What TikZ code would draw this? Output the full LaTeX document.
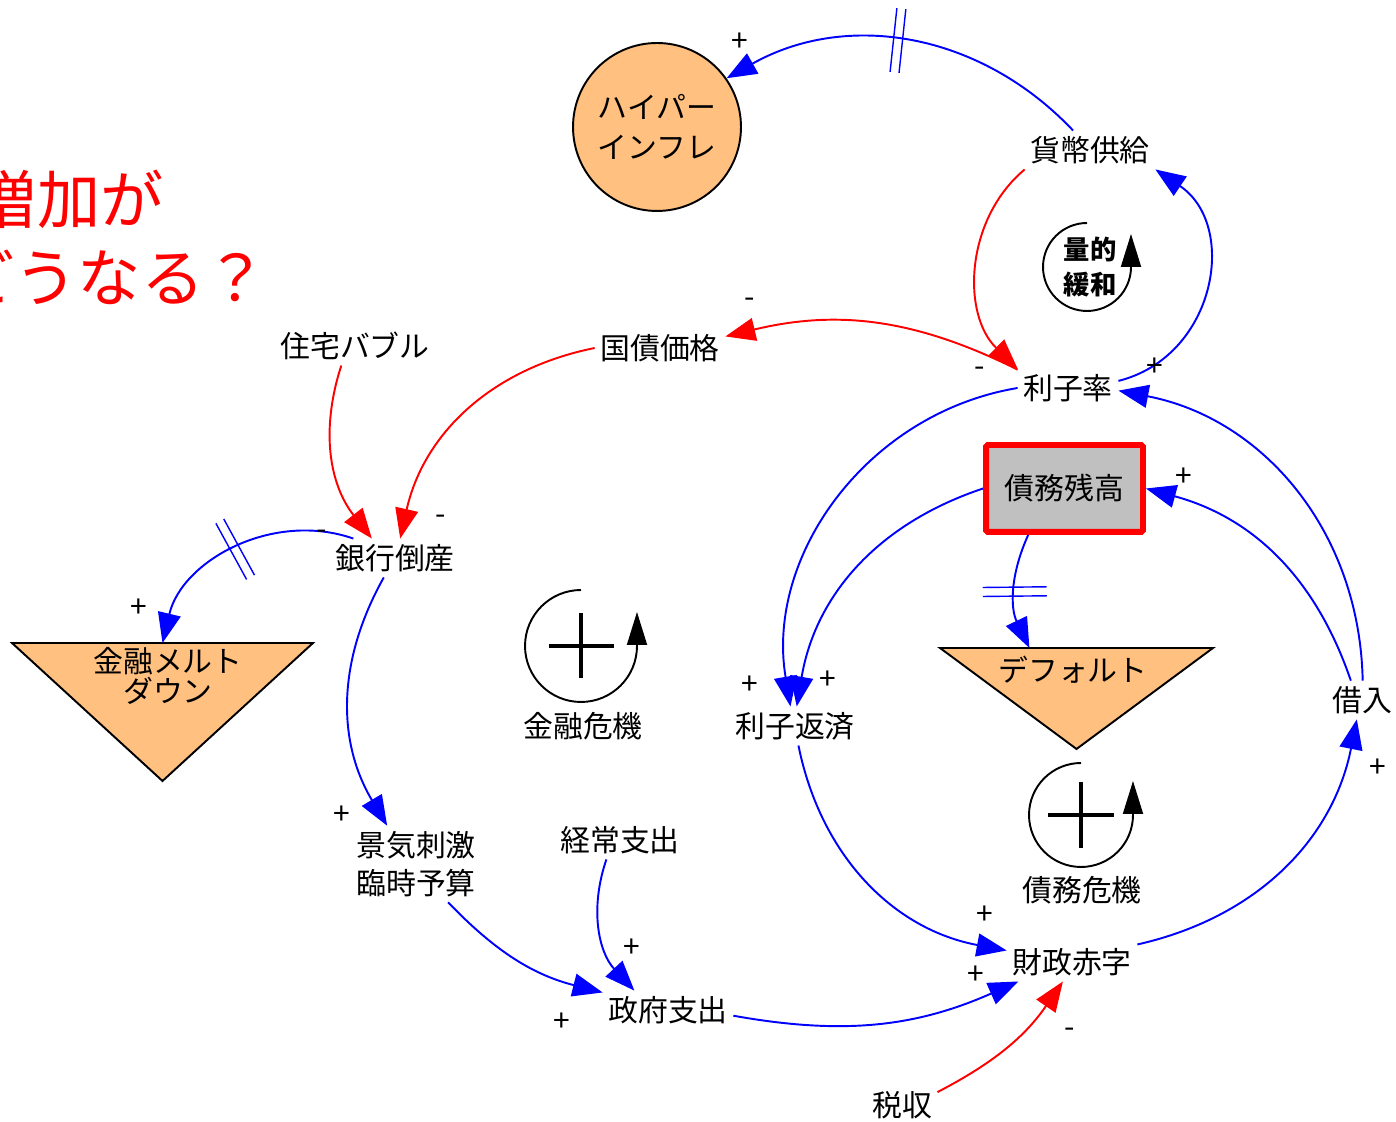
\documentclass[tikz,border=0pt]{standalone}
\usepackage{fontspec}
\setmainfont{Noto Sans CJK JP}
\usetikzlibrary{arrows.meta,decorations.markings}
\definecolor{linkblue}{HTML}{0000FF}
\definecolor{linkred}{HTML}{FF0000}
\definecolor{sinkfill}{HTML}{FFC080}
\definecolor{stockfill}{HTML}{C0C0C0}

\tikzset{
  var/.style={font=\fontsize{17}{21}\selectfont, inner sep=3pt},
  heading/.style={font=\fontsize{36}{36}\selectfont, text=linkred, inner sep=0pt},
  stock/.style={var, draw=linkred, line width=3.4pt, fill=stockfill, rounded corners=1pt,
    minimum width=3.14cm, minimum height=1.74cm},
  sink/.style={var, draw=black, line width=1.1pt, fill=sinkfill, align=center,
    font=\fontsize{17}{22.7}\selectfont},
  sinkarea/.style={inner sep=0pt, outer sep=0pt},
  sinkline/.style={draw=black, line width=1.1pt, fill=sinkfill},
  poslink/.style={draw=linkblue, line width=1.1pt, -{Triangle[length=0.6cm,width=0.46cm]}, linkblue},
  neglink/.style={draw=linkred, line width=1.1pt, -{Triangle[length=0.6cm,width=0.46cm]}, linkred},
  delaymark/.style={postaction={decorate, decoration={markings, mark=at position #1 with {
    \draw[linkblue, line width=0.8pt, arrows=-] (-0.09cm,-0.64cm) -- (-0.09cm,0.64cm)
      (0.09cm,-0.64cm) -- (0.09cm,0.64cm);}}}},
  polarity/.style={font=\fontsize{17}{17}\selectfont, inner sep=0pt},
  looparrow/.style={draw=black, line width=1.1pt, -{Triangle[length=0.66cm,width=0.4cm]}},
  plusmark/.style={line width=2.6pt},
  looplabel/.style={font=\fontsize{15}{20}\selectfont\bfseries, align=center, inner sep=0pt}
}

\begin{document}
\begin{tikzpicture}[x=0.02cm, y=0.02cm]
  \useasboundingbox (0,0) rectangle (1396,1122);

  % question
  \node[heading, anchor=east] (title1) at (164,923) {増加が};
  \node[heading, anchor=east] (title2) at (268,845) {どうなる？};

  % stock, sinks
  \node[sink, circle, minimum size=3.36cm] (hyper) at (657,995) {ハイパー\\インフレ};
  \node[stock] (debt) at (1064.5,633.5) {債務残高};
  \node[sinkarea, minimum width=6.02cm, minimum height=2.76cm] (meltdown) at (162.5,410) {};
  \draw[sinkline] (meltdown.north west) -- (meltdown.north east) -- (meltdown.south) -- cycle;
  \node[var, align=center, font=\fontsize{17}{15.5}\selectfont] (meltdown label) at (168,446) {金融メルト\\ダウン};
  \node[sinkarea, minimum width=5.46cm, minimum height=2.02cm] (default) at (1076.5,423.5) {};
  \draw[sinkline] (default.north west) -- (default.north east) -- (default.south) -- cycle;
  \node[var] (default label) at (1073,452) {デフォルト};

  % variables
  \node[var] (money) at (1090,972) {貨幣供給};
  \node[var] (rate) at (1068,734) {利子率};
  \node[var] (bondprice) at (660,774) {国債価格};
  \node[var] (housing) at (355,776) {住宅バブル};
  \node[var] (bank) at (395,564) {銀行倒産};
  \node[var] (interest) at (795,396) {利子返済};
  \node[var, align=center, font=\fontsize{17}{21.5}\selectfont] (stimulus) at (416,258) {景気刺激\\臨時予算};
  \node[var] (current) at (620,282) {経常支出};
  \node[var] (govspend) at (668,112) {政府支出};
  \node[var] (deficit) at (1072,160) {財政赤字};
  \node[var] (tax) at (902,17) {税収};
  \node[var] (borrow) at (1362,422) {借入};

  % loops
  \coordinate (qe loop) at (1087,855);
  \draw[looparrow] ([yshift=0.88cm]qe loop) arc[start angle=90, end angle=360, radius=0.88cm] -- ++(0,33);
  \node[looplabel] (qe) at (1090,855) {量的\\緩和};

  \coordinate (fin loop) at (581,476);
  \draw[looparrow] ([yshift=1.12cm]fin loop) arc[start angle=90, end angle=360, radius=1.12cm] -- ++(0,34);
  \draw[plusmark] ([xshift=-0.65cm]fin loop) -- ([xshift=0.65cm]fin loop)
    ([yshift=-0.65cm]fin loop) -- ([yshift=0.65cm]fin loop);
  \node[var] (fincrisis) at (583,396) {金融危機};

  \coordinate (debt loop) at (1081,307);
  \draw[looparrow] ([yshift=1.04cm]debt loop) arc[start angle=90, end angle=360, radius=1.04cm] -- ++(0,34);
  \draw[plusmark] ([xshift=-0.66cm]debt loop) -- ([xshift=0.66cm]debt loop)
    ([yshift=-0.66cm]debt loop) -- ([yshift=0.66cm]debt loop);
  \node[var] (debtcrisis) at (1082,232) {債務危機};

  % links
  \draw[poslink, delaymark=0.53] (money.131) to[bend right=38] (hyper.35);
  \draw[neglink] (money.south west) to[bend right=48] (rate.north west);
  \draw[poslink] (rate.8) to[bend right=66, looseness=1.2] (money.south east);
  \draw[neglink] (rate.160) to[bend right=20] (bondprice.10);
  \draw[neglink] (bondprice.west) to[bend right=33] (bank.75);
  \draw[neglink] (housing.235) to[bend right=28] (bank.140);
  \draw[poslink, delaymark=0.5] (bank.155) to[bend right=48] (meltdown.north);
  \draw[poslink] (bank.240) to[bend right=30] (stimulus.127);
  \draw[poslink] (stimulus.-50) to[bend right=16] (govspend.165);
  \draw[poslink] (current.235) to[bend right=31] (govspend.150);
  \draw[poslink] (govspend.-5) to[bend right=17] (deficit.200);
  \draw[poslink] (interest.-80) to[bend right=34] (deficit.170);
  \draw[neglink] (tax.20) to[bend right=14] (deficit.245);
  \draw[poslink] (deficit.15) to[bend right=33] (borrow.255);
  \draw[poslink] (borrow.120) to[bend right=28] (debt.east);
  \draw[poslink] (borrow.88) to[bend right=39] (rate.-3);
  \draw[poslink] (debt.west) to[bend right=31] (interest.85);
  \draw[poslink] (rate.west) to[bend right=45] (interest.103);
  \draw[poslink, delaymark=0.5] (debt.232) to[bend right=25] (default.133);

  % polarities
  \foreach \sx/\sy/\sg [count=\i] in {740/1080/+, 750/819/-, 980/750/-, 1155/755/+,
      441/602/-, 322/587/-, 139/514/+, 1184/645/+, 750/437/+, 828/442/+, 342/307/+,
      632/174/+, 562/100/+, 985/207/+, 976/147/+, 1070/89/-, 1378/354/+}
    \node[polarity] (sign\i) at (\sx,\sy) {\sg};
\end{tikzpicture}
\end{document}
